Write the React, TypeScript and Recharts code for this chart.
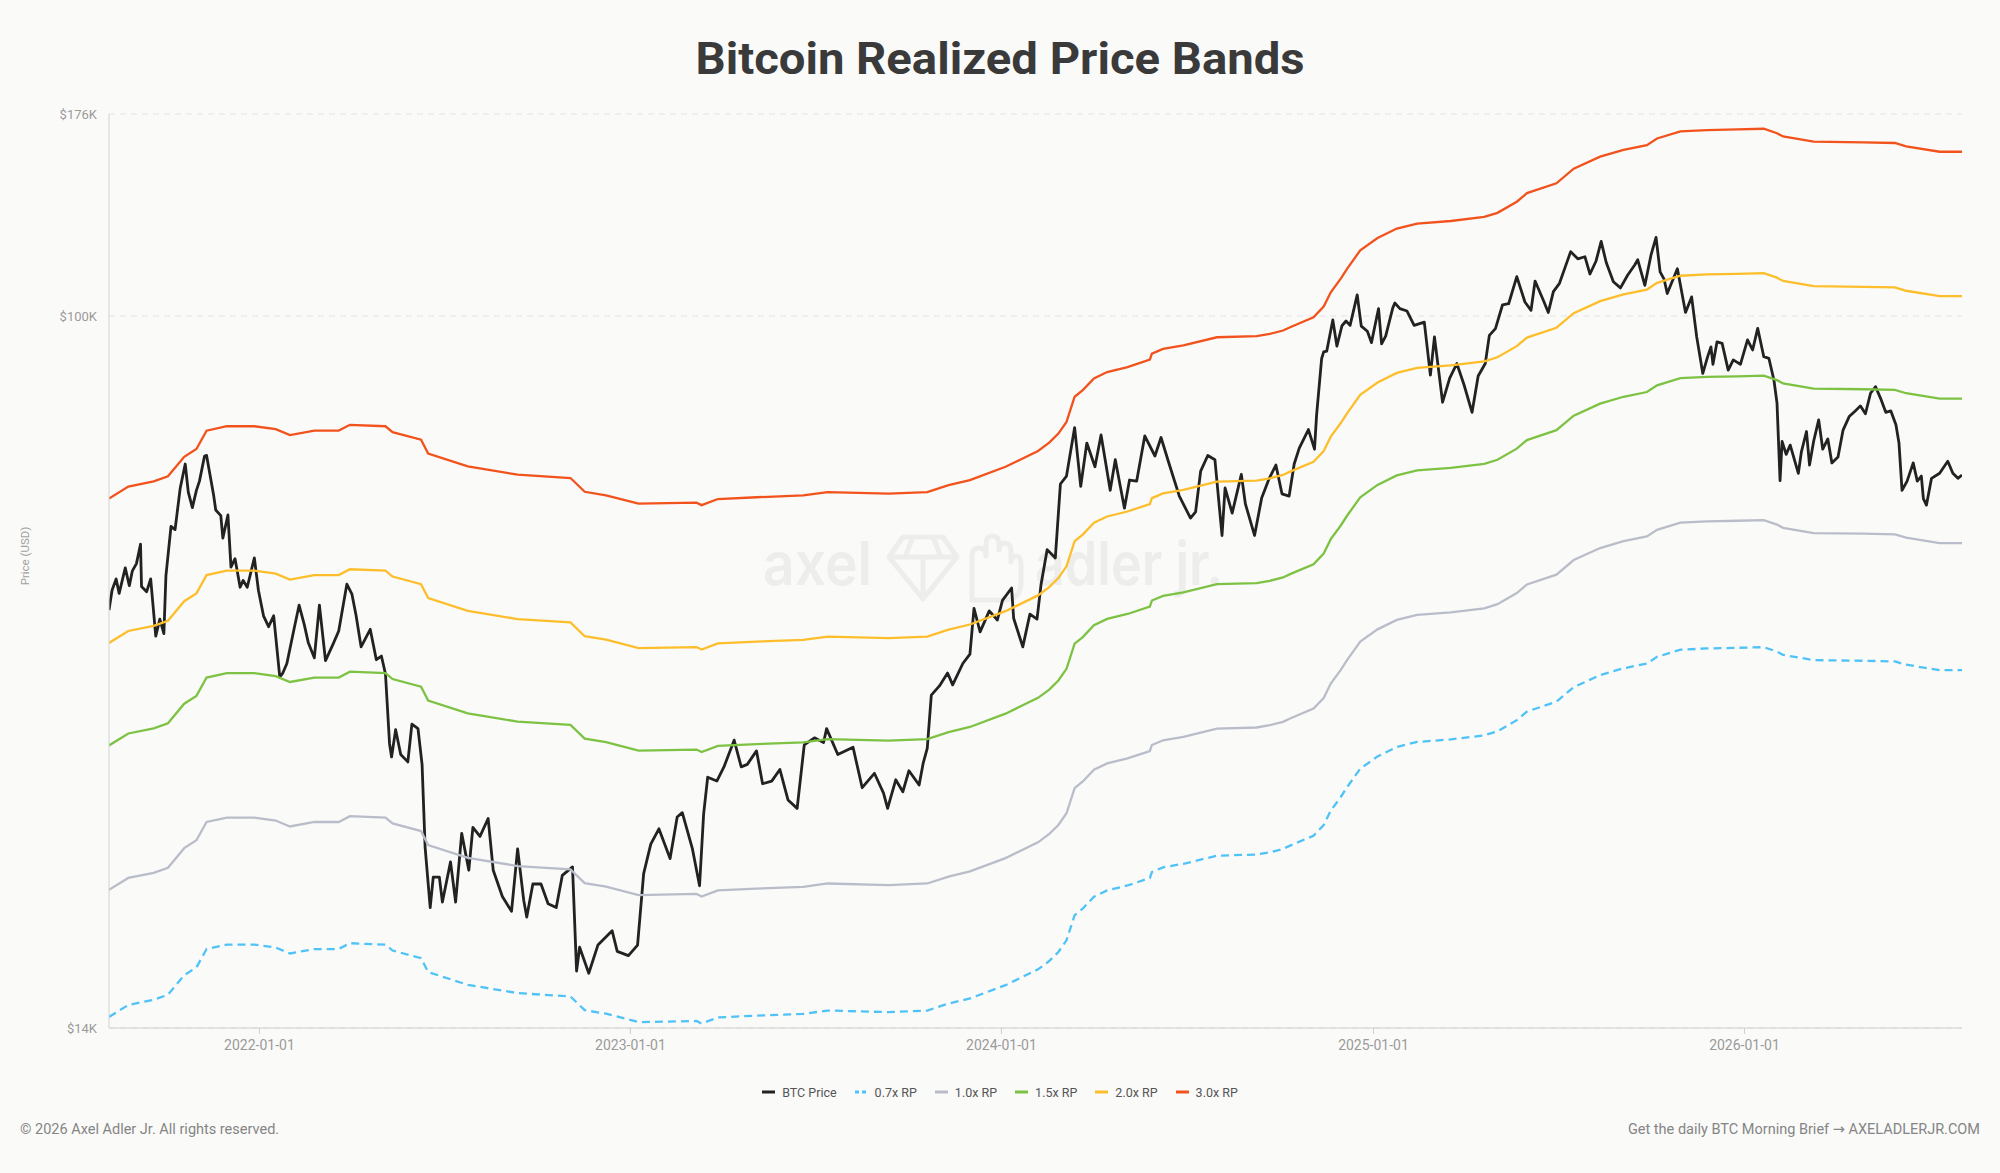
import React from 'react';
import { LineChart, Line, XAxis, YAxis, CartesianGrid } from 'recharts';

// ---------- DATA ----------
const btcDates = [
  '2021-08-06','2021-08-09','2021-08-13','2021-08-16','2021-08-22','2021-08-26','2021-08-29','2021-09-02','2021-09-06','2021-09-07',
  '2021-09-12','2021-09-16','2021-09-21','2021-09-25','2021-09-29','2021-10-01','2021-10-06','2021-10-10','2021-10-15','2021-10-20',
  '2021-10-23','2021-10-27','2021-10-31','2021-11-03','2021-11-08','2021-11-10','2021-11-13','2021-11-17','2021-11-19','2021-11-24',
  '2021-11-26','2021-12-01','2021-12-04','2021-12-08','2021-12-13','2021-12-16','2021-12-20','2021-12-27','2021-12-31','2022-01-05',
  '2022-01-10','2022-01-15','2022-01-21','2022-01-24','2022-01-28','2022-02-04','2022-02-09','2022-02-14','2022-02-18','2022-02-24',
  '2022-03-01','2022-03-07','2022-03-14','2022-03-20','2022-03-28','2022-04-02','2022-04-06','2022-04-11','2022-04-20','2022-04-26',
  '2022-05-01','2022-05-05','2022-05-09','2022-05-11','2022-05-15','2022-05-20','2022-05-27','2022-05-31','2022-06-06','2022-06-10',
  '2022-06-13','2022-06-18','2022-06-21','2022-06-27','2022-06-30','2022-07-08','2022-07-13','2022-07-19','2022-07-26','2022-07-30',
  '2022-08-06','2022-08-14','2022-08-19','2022-08-28','2022-09-06','2022-09-12','2022-09-18','2022-09-21','2022-09-27','2022-10-05',
  '2022-10-12','2022-10-20','2022-10-26','2022-11-05','2022-11-09','2022-11-12','2022-11-21','2022-11-30','2022-12-14','2022-12-19',
  '2022-12-30','2023-01-08','2023-01-14','2023-01-21','2023-01-29','2023-02-09','2023-02-16','2023-02-21','2023-03-03','2023-03-10',
  '2023-03-14','2023-03-18','2023-03-27','2023-04-03','2023-04-13','2023-04-20','2023-04-26','2023-05-05','2023-05-11','2023-05-20',
  '2023-05-28','2023-06-05','2023-06-14','2023-06-21','2023-07-01','2023-07-10','2023-07-13','2023-07-24','2023-08-08','2023-08-17',
  '2023-08-29','2023-09-07','2023-09-11','2023-09-19','2023-09-26','2023-10-02','2023-10-12','2023-10-16','2023-10-20','2023-10-24',
  '2023-11-01','2023-11-09','2023-11-14','2023-11-24','2023-12-01','2023-12-05','2023-12-11','2023-12-20','2023-12-28','2024-01-02',
  '2024-01-11','2024-01-13','2024-01-22','2024-01-29','2024-02-05','2024-02-09','2024-02-15','2024-02-23','2024-02-28','2024-03-05',
  '2024-03-13','2024-03-19','2024-03-25','2024-04-02','2024-04-08','2024-04-17','2024-04-22','2024-05-01','2024-05-06','2024-05-13',
  '2024-05-21','2024-05-31','2024-06-06','2024-06-14','2024-06-24','2024-07-05','2024-07-10','2024-07-15','2024-07-22','2024-07-29',
  '2024-08-05','2024-08-08','2024-08-15','2024-08-24','2024-08-28','2024-09-06','2024-09-13','2024-09-20','2024-09-27','2024-10-03',
  '2024-10-10','2024-10-15','2024-10-20','2024-10-29','2024-11-04','2024-11-06','2024-11-11','2024-11-13','2024-11-16','2024-11-22',
  '2024-11-26','2024-12-01','2024-12-05','2024-12-09','2024-12-16','2024-12-20','2024-12-26','2024-12-30','2025-01-06','2025-01-09',
  '2025-01-13','2025-01-20','2025-01-22','2025-01-27','2025-02-03','2025-02-10','2025-02-20','2025-02-26','2025-03-02','2025-03-10',
  '2025-03-17','2025-03-24','2025-03-31','2025-04-08','2025-04-14','2025-04-21','2025-04-25','2025-05-01','2025-05-08','2025-05-14',
  '2025-05-22','2025-05-30','2025-06-05','2025-06-09','2025-06-17','2025-06-22','2025-06-27','2025-07-03','2025-07-10','2025-07-14',
  '2025-07-21','2025-07-28','2025-08-02','2025-08-08','2025-08-13','2025-08-18','2025-08-25','2025-09-01','2025-09-08','2025-09-15',
  '2025-09-18','2025-09-25','2025-10-01','2025-10-06','2025-10-10','2025-10-14','2025-10-17','2025-10-27','2025-11-04','2025-11-10',
  '2025-11-15','2025-11-21','2025-11-26','2025-11-29','2025-12-01','2025-12-05','2025-12-10','2025-12-16','2025-12-21','2025-12-28',
  '2026-01-04','2026-01-09','2026-01-14','2026-01-20','2026-01-25','2026-01-30','2026-02-02','2026-02-05','2026-02-07','2026-02-11',
  '2026-02-15','2026-02-23','2026-02-26','2026-03-03','2026-03-06','2026-03-10','2026-03-15','2026-03-19','2026-03-24','2026-03-28',
  '2026-04-03','2026-04-08','2026-04-14','2026-04-20','2026-04-25','2026-04-30','2026-05-05','2026-05-10','2026-05-15','2026-05-20',
  '2026-05-25','2026-05-30','2026-06-02','2026-06-05','2026-06-10','2026-06-16','2026-06-20','2026-06-24','2026-06-26','2026-06-29',
  '2026-07-04','2026-07-12','2026-07-20','2026-07-25','2026-07-30','2026-08-03',
];
// BTC price, thousands of USD
const btcPrices = [
  43.8,46.3,47.8,45.9,49.3,46.9,48.9,49.9,52.7,46.8,
  46.1,47.8,40.7,42.7,41.0,48.2,55.4,54.9,61.6,66.0,
  61.0,58.4,61.3,62.9,67.5,67.6,64.4,60.4,58.0,57.1,
  53.6,57.2,49.4,50.6,46.7,47.6,46.7,50.7,46.3,43.1,
  41.8,43.1,36.3,36.7,37.7,41.5,44.4,42.1,40.0,38.3,
  44.4,38.0,39.7,41.3,47.1,45.8,43.2,39.5,41.5,38.1,
  38.5,36.6,30.1,29.0,31.3,29.2,28.6,31.8,31.4,28.4,
  22.5,19.0,20.7,20.7,19.3,21.6,19.3,23.4,21.1,23.8,
  23.2,24.4,21.1,19.6,18.8,22.4,19.4,18.5,20.3,20.3,
  19.2,19.0,20.8,21.3,15.9,17.0,15.8,17.1,17.8,16.8,
  16.6,17.1,20.9,22.7,23.7,21.8,24.5,24.8,22.4,20.2,
  24.7,27.4,27.1,28.2,30.4,28.2,28.4,29.5,26.9,27.1,
  28.0,25.7,25.1,30.0,30.6,30.2,31.4,29.2,29.8,26.6,
  27.7,26.2,25.1,27.2,26.3,27.9,26.8,28.5,29.7,34.5,
  35.4,36.7,35.5,37.7,38.7,44.0,41.2,43.7,42.6,45.0,
  46.6,42.8,39.5,43.3,42.7,47.1,51.9,50.7,62.4,63.8,
  73.1,62.0,70.0,65.5,71.6,61.3,66.8,58.3,63.1,62.9,
  71.4,67.5,71.1,66.0,60.3,56.7,57.7,64.7,67.6,66.8,
  54.0,61.7,57.5,64.1,59.0,54.0,60.0,63.2,65.8,60.7,
  60.3,66.0,69.0,72.7,68.8,75.6,88.7,90.4,90.6,98.9,
  91.9,97.3,98.6,97.4,106.1,97.2,95.8,92.8,102.1,92.5,
  94.5,102.3,103.7,102.1,101.4,97.4,98.3,84.7,94.3,78.5,
  84.0,87.5,82.5,76.3,84.5,87.5,94.7,96.5,103.2,103.5,
  111.7,104.0,101.6,110.3,104.6,101.0,107.1,109.6,116.0,119.8,
  117.4,118.1,112.5,116.7,123.3,116.2,110.1,108.2,112.1,115.4,
  117.1,109.0,118.6,124.7,113.2,110.8,106.5,114.2,101.0,105.5,
  94.3,85.1,89.4,91.7,87.3,93.0,92.6,85.9,88.4,87.3,
  93.5,90.9,96.6,89.2,88.8,83.5,78.3,63.0,70.3,67.8,
  69.6,64.3,68.3,72.3,65.8,70.3,74.7,68.8,70.8,66.2,
  67.3,72.6,75.4,76.6,77.7,76.0,80.5,82.0,79.3,76.3,
  76.6,73.7,70.0,61.3,62.9,66.2,62.9,63.8,59.9,58.8,
  63.4,64.3,66.5,64.3,63.4,64.0,
];

const rpDates = [
  '2021-08-06','2021-08-25','2021-09-19','2021-10-03','2021-10-19','2021-10-31','2021-11-10','2021-11-30','2021-12-27','2022-01-17',
  '2022-01-31','2022-02-24','2022-03-20','2022-03-31','2022-05-05','2022-05-12','2022-06-09','2022-06-16','2022-07-25','2022-09-12',
  '2022-11-03','2022-11-17','2022-12-08','2023-01-09','2023-03-07','2023-03-12','2023-03-28','2023-05-05','2023-06-20','2023-07-14',
  '2023-09-12','2023-10-20','2023-11-10','2023-12-01','2024-01-05','2024-02-06','2024-02-17','2024-02-26','2024-03-05','2024-03-13',
  '2024-03-21','2024-04-01','2024-04-14','2024-05-04','2024-05-26','2024-05-28','2024-06-08','2024-06-28','2024-07-31','2024-09-08',
  '2024-09-21','2024-10-04','2024-10-11','2024-11-03','2024-11-13','2024-11-20','2024-11-30','2024-12-06','2024-12-19','2025-01-05',
  '2025-01-24','2025-02-13','2025-03-18','2025-04-20','2025-05-03','2025-05-22','2025-06-01','2025-06-30','2025-07-17','2025-08-12',
  '2025-09-04','2025-09-27','2025-10-07','2025-10-30','2025-11-25','2025-12-25','2026-01-20','2026-02-02','2026-02-08','2026-03-10',
  '2026-04-28','2026-05-29','2026-06-09','2026-07-12','2026-08-03',
];
// Realized price, thousands of USD
const rpValues = [
  19.97,20.65,20.95,21.25,22.45,22.95,24.16,24.46,24.46,24.26,
  23.86,24.16,24.16,24.56,24.46,24.06,23.55,22.65,21.85,21.35,
  21.15,20.35,20.15,19.68,19.74,19.6,19.94,20.04,20.14,20.33,
  20.24,20.33,20.73,21.03,21.83,22.82,23.36,23.96,24.76,26.57,
  27.07,27.98,28.48,28.88,29.49,29.99,30.39,30.69,31.4,31.5,
  31.7,32.0,32.3,33.21,34.22,35.63,37.05,38.05,40.08,41.49,
  42.61,43.21,43.52,44.02,44.53,45.94,47.06,48.38,50.4,52.13,
  53.14,53.85,54.87,55.98,56.18,56.28,56.38,55.68,55.17,54.37,
  54.27,54.17,53.67,52.86,52.86,
];

const bandMultipliers = [0.7, 1.0, 1.5, 2.0, 3.0];
const bandLabels = ['0.7x RP', '1.0x RP', '1.5x RP', '2.0x RP', '3.0x RP'];
const bandColors = ['#4FC3F7', '#B9BDC9', '#7DC243', '#FDBE2C', '#F2521B'];
const btcLabel = 'BTC Price';
const btcColor = '#222222';

const xTickLabels = ['2022-01-01', '2023-01-01', '2024-01-01', '2025-01-01', '2026-01-01'];
const yDomain = [13.55, 176.3];
const yTickValues = [13.55, 100, 176.3];
const xDomainDates = ['2021-08-06', '2026-08-03'];

// ---------- BUILD ----------
const toTs = (d: string) => Date.parse(d + 'T00:00:00Z');
const btcData = btcDates.map((d, i) => ({ t: toTs(d), price: btcPrices[i] }));
const rpData = rpDates.map((d, i) => {
  const row: Record<string, number> = { t: toTs(d) };
  bandMultipliers.forEach((m, j) => {
    row['b' + j] = rpValues[i] * m;
  });
  return row;
});
const xTicks = xTickLabels.map(toTs);
const xDomain = xDomainDates.map(toTs);

const W = 2000;
const H = 1173;
const FONT = 'Roboto, "DejaVu Sans", sans-serif';

const Watermark = () => (
  <svg width={W} height={H} style={{ position: 'absolute', left: 0, top: 0 }}>
    <g fill="none" stroke="#EDEDEB" strokeWidth={5} strokeLinejoin="round">
      <polygon points="903,537 943,537 957,557 923,599 889,557" />
      <line x1="889" y1="557" x2="957" y2="557" />
      <line x1="923" y1="557" x2="923" y2="599" />
      <line x1="913" y1="537" x2="905" y2="557" />
      <line x1="933" y1="537" x2="941" y2="557" />
      <path d="M972,600 L972,556 Q972,548 979,548 Q986,548 986,556 L986,544 Q986,536 992,536 Q999,536 999,544 L999,550 Q999,543 1005,543 Q1011,543 1011,551 L1011,562 Q1011,556 1016,556 Q1021,556 1021,564 L1021,582 Q1021,600 1003,600 Z" />
    </g>
    <text x={763} y={585} fontFamily="Inter, Roboto, sans-serif" fontWeight={600} fontSize={60} fill="#EDEDEB" textLength={109} lengthAdjust="spacingAndGlyphs">axel</text>
    <text x={1035} y={585} fontFamily="Inter, Roboto, sans-serif" fontWeight={600} fontSize={60} fill="#EDEDEB" textLength={188} lengthAdjust="spacingAndGlyphs">adler jr.</text>
  </svg>
);

const LegendRow = () => {
  const items = [{ label: btcLabel, color: btcColor, dash: false }].concat(
    bandLabels.map((l, i) => ({ label: l, color: bandColors[i], dash: i === 0 }))
  );
  return (
    <div
      style={{
        position: 'absolute', left: 0, top: 1083, width: W, height: 18,
        display: 'flex', justifyContent: 'center', alignItems: 'center', gap: 18,
        fontFamily: FONT, fontSize: 12.5, color: '#555',
      }}
    >
      {items.map((it) => (
        <div key={it.label} style={{ display: 'flex', alignItems: 'center', gap: 7 }}>
          <svg width={13} height={4}>
            <line x1={0} y1={2} x2={13} y2={2} stroke={it.color} strokeWidth={3} strokeDasharray={it.dash ? '4 3' : undefined} />
          </svg>
          <span>{it.label}</span>
        </div>
      ))}
    </div>
  );
};

export default function App() {
  return (
    <div style={{ position: 'relative', width: W, height: H, background: '#FAFAF9', overflow: 'hidden' }}>
      <style>{'body{margin:0;background:#FAFAF9}'}</style>
      <Watermark />
      <svg width={W} height={100} style={{ position: 'absolute', left: 0, top: 0 }}>
        <text x={1000} y={74} textAnchor="middle" fontFamily={FONT} fontWeight={700} fontSize={45} fill="#3A3A3A" textLength={609} lengthAdjust="spacingAndGlyphs">
          Bitcoin Realized Price Bands
        </text>
      </svg>
      <div
        style={{
          position: 'absolute', left: 25 - 60, top: 556 - 9, width: 120, height: 18, lineHeight: '18px',
          textAlign: 'center', transform: 'rotate(-90deg)', fontFamily: FONT, fontSize: 11.5, color: '#A0A0A0',
        }}
      >
        Price (USD)
      </div>
      <div style={{ position: 'absolute', left: 0, top: 0 }}>
        <LineChart width={W} height={H} margin={{ top: 114, right: 38, left: 0, bottom: 115 }}>
          <CartesianGrid vertical={false} stroke="#E4E4E4" strokeDasharray="6 5" />
          <XAxis
            dataKey="t"
            type="number"
            domain={xDomain}
            allowDataOverflow
            ticks={xTicks}
            height={30}
            tickFormatter={(v: number) => new Date(v).toISOString().slice(0, 10)}
            tick={{ fill: '#9A9A9A', fontSize: 14, fontFamily: FONT }}
            stroke="#CFCFCF"
            tickLine={{ stroke: '#CFCFCF' }}
            tickSize={6}
            tickMargin={6}
          />
          <YAxis
            type="number"
            scale="log"
            domain={yDomain}
            allowDataOverflow
            ticks={yTickValues}
            width={109}
            tickFormatter={(v: number) => `$${Math.round(v)}K`}
            tick={{ fill: '#9A9A9A', fontSize: 13, fontFamily: FONT }}
            stroke="#D2D2D2"
            tickLine={false}
            tickSize={6}
            tickMargin={6}
          />
          <Line data={btcData} dataKey="price" type="linear" stroke={btcColor} strokeWidth={2.8} strokeLinejoin="round" dot={false} activeDot={false} isAnimationActive={false} />
          {bandLabels.map((label, j) => (
            <Line
              key={label}
              data={rpData}
              dataKey={'b' + j}
              name={label}
              type="linear"
              stroke={bandColors[j]}
              strokeWidth={2.3}
              strokeDasharray={j === 0 ? '8 5' : undefined}
              dot={false}
              activeDot={false}
              isAnimationActive={false}
            />
          ))}
        </LineChart>
      </div>
      <LegendRow />
      <div style={{ position: 'absolute', left: 20, top: 1121, fontFamily: FONT, fontSize: 14.5, color: '#858585', lineHeight: '18px' }}>
        © 2026 Axel Adler Jr. All rights reserved.
      </div>
      <div style={{ position: 'absolute', right: 20, top: 1121, fontFamily: FONT, fontSize: 14.5, color: '#858585', lineHeight: '18px' }}>
        Get the daily BTC Morning Brief → AXELADLERJR.COM
      </div>
    </div>
  );
}
